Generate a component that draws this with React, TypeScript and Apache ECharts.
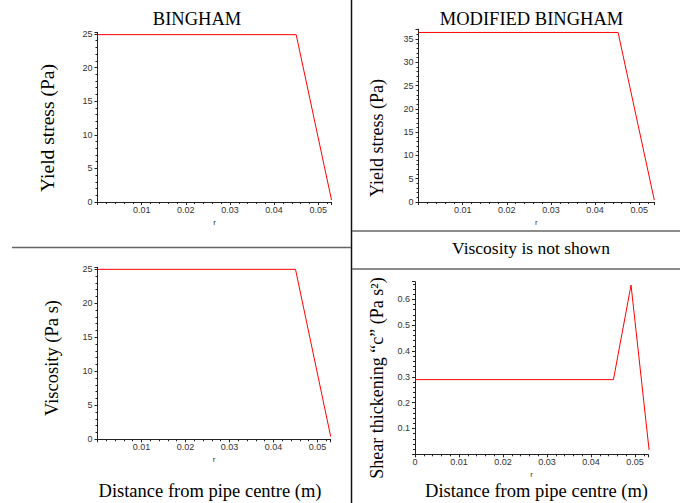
import React, { useEffect, useRef } from "react";
import * as echarts from "echarts";

// Panel 1: Bingham yield stress
const r1 = [0, 0.045, 0.053];
const yield1 = [24.9, 24.9, 0.3];
// Panel 2: Modified Bingham yield stress
const r2 = [0, 0.0452, 0.0534];
const yield2 = [36.4, 36.4, 0.4];
// Panel 3: Bingham viscosity
const r3 = [0, 0.045, 0.053];
const visc3 = [25, 25, 0.4];
// Panel 4: shear thickening c
const r4 = [0, 0.0451, 0.0491, 0.0532];
const shear4 = [0.289, 0.289, 0.655, 0.017];

const titles = ["BINGHAM", "MODIFIED BINGHAM"];
const yTitles = ["Yield stress (Pa)", "Yield stress (Pa)", "Viscosity (Pa s)", "Shear thickening \u201cc\u201d (Pa s\u00b2)"];
const xTitle = "Distance from pipe centre (m)";
const note = "Viscosity is not shown";

const SERIF = "'Liberation Serif', 'Times New Roman', serif";
const SANS = "'Liberation Sans', Arial, sans-serif";

function pairs(xs: number[], ys: number[]) {
  return xs.map((x, i) => [x, ys[i]]);
}

function xAxis(gridIndex: number, max: number, showMin: boolean) {
  return {
    type: "value",
    gridIndex,
    min: 0,
    max,
    interval: 0.01,
    name: "r",
    nameLocation: "middle",
    nameGap: 16,
    nameTextStyle: { fontFamily: SANS, fontSize: 8, color: "#333" },
    axisLine: { show: true, onZero: false, lineStyle: { color: "#222", width: 1 } },
    axisTick: { show: true, length: 3, lineStyle: { color: "#222" } },
    minorTick: { show: true, splitNumber: 5, length: 2, lineStyle: { color: "#222" } },
    splitLine: { show: false },
    axisLabel: {
      show: true,
      fontFamily: SANS,
      fontSize: 9,
      color: "#333",
      margin: 3,
      showMinLabel: showMin,
      showMaxLabel: false,
    },
  };
}

function yAxis(gridIndex: number, max: number, interval: number, showMin: boolean) {
  return {
    type: "value",
    gridIndex,
    min: 0,
    max,
    interval,
    axisLine: { show: true, onZero: false, lineStyle: { color: "#222", width: 1 } },
    axisTick: { show: true, length: 3, lineStyle: { color: "#222" } },
    minorTick: { show: true, splitNumber: 5, length: 2, lineStyle: { color: "#222" } },
    splitLine: { show: false },
    axisLabel: {
      show: true,
      fontFamily: SANS,
      fontSize: 9,
      color: "#333",
      margin: 5,
      showMinLabel: showMin,
      showMaxLabel: false,
    },
  };
}

function lineSeries(idx: number, data: number[][]) {
  return {
    type: "line",
    xAxisIndex: idx,
    yAxisIndex: idx,
    data,
    symbol: "none",
    lineStyle: { color: "#ff0000", width: 1 },
    itemStyle: { color: "#ff0000" },
    silent: true,
  };
}

function rotText(text: string, x: number, y: number, size: number) {
  return {
    type: "text",
    x,
    y,
    rotation: Math.PI / 2,
    style: {
      text,
      x: 0,
      y: 0,
      fill: "#000",
      font: `${size}px ${SERIF}`,
      textAlign: "center",
      textVerticalAlign: "middle",
    },
  };
}

function hText(text: string, x: number, y: number, size: number) {
  return {
    type: "text",
    x,
    y,
    style: {
      text,
      x: 0,
      y: 0,
      fill: "#000",
      font: `${size}px ${SERIF}`,
      textAlign: "center",
      textVerticalAlign: "middle",
    },
  };
}

function hLine(x1: number, y1: number, x2: number, y2: number, color: string, w: number) {
  return {
    type: "line",
    shape: { x1, y1, x2, y2 },
    style: { stroke: color, lineWidth: w },
  };
}

export default function App() {
  const ref = useRef<HTMLDivElement>(null);
  useEffect(() => {
    if (!ref.current) return;
    const chart = echarts.init(ref.current, undefined, { renderer: "svg" });
    chart.setOption({
      animation: false,
      backgroundColor: "#ffffff",
      grid: [
        { left: 97.5, top: 32.3, width: 234, height: 169.7, outerBoundsMode: "none" },
        { left: 418.5, top: 29.2, width: 235.8, height: 172.8, outerBoundsMode: "none" },
        { left: 97.5, top: 267.3, width: 233.2, height: 172, outerBoundsMode: "none" },
        { left: 415, top: 281.7, width: 233.2, height: 172.6, outerBoundsMode: "none" },
      ],
      xAxis: [
        xAxis(0, 0.053, false),
        xAxis(1, 0.0534, false),
        xAxis(2, 0.053, false),
        xAxis(3, 0.053, true),
      ],
      yAxis: [
        yAxis(0, 25.25, 5, true),
        yAxis(1, 37.1, 5, true),
        yAxis(2, 25.3, 5, true),
        yAxis(3, 0.668, 0.1, false),
      ],
      series: [
        lineSeries(0, pairs(r1, yield1)),
        lineSeries(1, pairs(r2, yield2)),
        lineSeries(2, pairs(r3, visc3)),
        lineSeries(3, pairs(r4, shear4)),
      ],
      graphic: [
        hLine(351.5, 0, 351.5, 503, "#111", 1.5),
        hLine(12, 247.5, 351, 247.5, "#666", 1.5),
        hLine(352, 231, 680, 231, "#666", 1.5),
        hLine(352, 269, 680, 269, "#666", 1.5),
        hText(titles[0], 197, 18.5, 18.5),
        hText(titles[1], 531.5, 18.5, 18.5),
        hText(note, 531, 248, 17.5),
        hText(xTitle, 210, 491, 18.5),
        hText(xTitle, 536.5, 491, 18.5),
        rotText(yTitles[0], 47, 128, 19.5),
        rotText(yTitles[1], 377, 138, 18),
        rotText(yTitles[2], 52, 358, 18.5),
        rotText(yTitles[3], 377, 378, 18),
      ],
    });
    return () => chart.dispose();
  }, []);
  return (
    <div
      ref={ref}
      style={{ position: "fixed", left: 0, top: 0, width: 687, height: 503, background: "#fff" }}
    />
  );
}
